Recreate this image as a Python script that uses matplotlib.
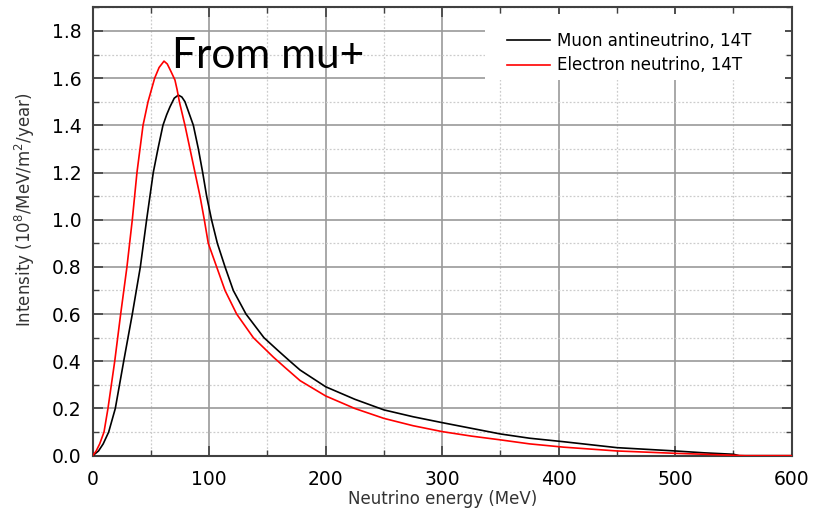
import numpy as np
import matplotlib
matplotlib.use("Agg")
import matplotlib.pyplot as plt
from matplotlib.ticker import MultipleLocator
from matplotlib.patches import Rectangle

plt.rcParams['font.family'] = ['DejaVu Sans']

# muon antineutrino spectrum, 14T (MeV, 1e8/MeV/m2/year)
mu_energy = [0, 5, 9, 13.7, 19.4, 26.6, 34, 40.9, 46.3, 52, 56, 60.3, 63.5, 66.4, 70, 73.5, 76.5,
             79.2, 86.4, 90.7, 94.4, 97.8, 102, 107, 113.6, 120.7, 131.6, 147, 158.5, 169.4, 178,
             200, 225, 250, 275, 300, 325, 350, 375, 404.5, 450, 500, 525, 550, 555, 600]
mu_intensity = [0, 0.02, 0.05, 0.1, 0.2, 0.4, 0.6, 0.8, 1.0, 1.2, 1.3, 1.4, 1.445, 1.479, 1.515, 1.528, 1.52,
                1.5, 1.4, 1.3, 1.2, 1.1, 1.0, 0.9, 0.8, 0.7, 0.6, 0.5, 0.448, 0.4, 0.363,
                0.292, 0.239, 0.194, 0.165, 0.14, 0.116, 0.092, 0.074, 0.059, 0.034, 0.02, 0.012, 0.006, 0.0, 0.0]

# electron neutrino spectrum, 14T
e_energy = [0, 3, 6, 9.7, 13.1, 18.9, 24, 29.4, 34, 38, 43.2, 47.5, 53.2, 57, 61.2, 64, 67, 70.6,
            72.5, 74.4, 79.2, 83.5, 87.8, 92.1, 95.8, 99.2, 106.4, 113.6, 123.6, 137.9, 155, 165, 178,
            200, 225, 250, 275, 300, 325, 350, 375, 404.5, 450, 500, 525, 560, 600]
e_intensity = [0, 0.02, 0.05, 0.1, 0.2, 0.4, 0.6, 0.8, 1.0, 1.2, 1.4, 1.5, 1.6, 1.645, 1.672, 1.66, 1.63, 1.592,
               1.55, 1.5, 1.4, 1.3, 1.2, 1.1, 1.0, 0.9, 0.8, 0.7, 0.6, 0.5, 0.418, 0.374, 0.318,
               0.253, 0.2, 0.158, 0.127, 0.102, 0.083, 0.067, 0.05, 0.036, 0.02, 0.01, 0.006, 0.0, 0.0]

fig = plt.figure(figsize=(8.16, 5.12), dpi=100)
ax = fig.add_axes([0.1136, 0.110, 0.8566, 0.8757])

ax.plot(mu_energy, mu_intensity, color='black', lw=1.2, label='Muon antineutrino, 14T', zorder=3)
ax.plot(e_energy, e_intensity, color='red', lw=1.2, label='Electron neutrino, 14T', zorder=3)

ax.set_xlim(0, 600)
ax.set_ylim(0, 1.9)
ax.xaxis.set_major_locator(MultipleLocator(100))
ax.xaxis.set_minor_locator(MultipleLocator(50))
ax.yaxis.set_major_locator(MultipleLocator(0.2))
ax.yaxis.set_minor_locator(MultipleLocator(0.1))
ax.yaxis.set_major_formatter(plt.FormatStrFormatter('%.1f'))

ax.grid(which='major', color='#9a9a9a', lw=1.2, ls='-')
ax.grid(which='minor', color='#cccccc', lw=0.9, ls=(0, (1.5, 1.5)))
ax.set_axisbelow(True)

ax.tick_params(which='both', direction='in', top=True, right=True, color='#404040')
ax.tick_params(which='major', length=7, width=1.2, labelsize=13.5)
ax.tick_params(axis='x', which='major', pad=10)
ax.tick_params(axis='y', which='major', pad=8)
ax.tick_params(which='minor', length=4, width=1.0)
for s in ax.spines.values():
    s.set_color('#404040')
    s.set_linewidth(1.5)

ax.set_xlabel('Neutrino energy (MeV)', fontsize=12, color='#333333')
ax.xaxis.set_label_coords(0.5, -0.077)
ax.set_ylabel(r'Intensity (10$^8$/MeV/m$^2$/year)', fontsize=12, color='#333333')
ax.yaxis.set_label_coords(-0.080, 0.548)

# white box behind the legend, kept clear of the ticks on the top and right
ax.add_patch(Rectangle((0.561, 0.838), 0.429, 0.146, transform=ax.transAxes,
                       facecolor='white', edgecolor='none', zorder=1))
ax.legend(loc='upper left', bbox_to_anchor=(0.578, 0.968), fontsize=12, frameon=False,
          handlelength=2.6, handletextpad=0.4, borderpad=0.6, labelspacing=0.4,
          borderaxespad=0.0)

ax.text(68, 1.643, 'From mu+', fontsize=30.5, family=['Lato', 'DejaVu Sans'],
        ha='left', va='baseline', zorder=6)

fig.savefig('out.png', dpi=100)
